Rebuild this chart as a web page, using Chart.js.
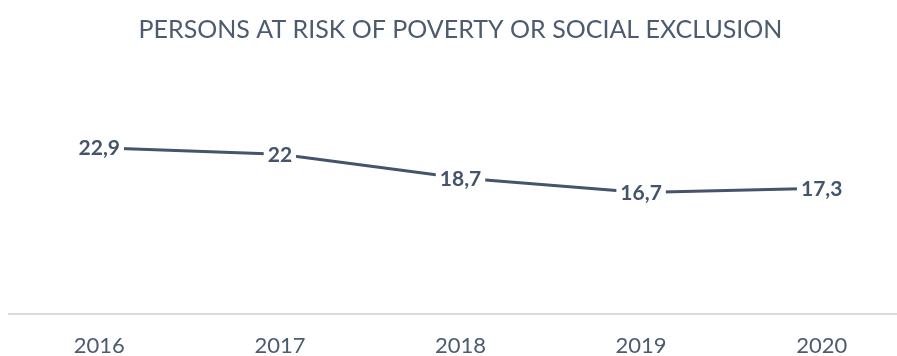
<!DOCTYPE html>
<html>
<head>
<meta charset="utf-8">
<script src="https://cdn.jsdelivr.net/npm/chart.js@4.4.1/dist/chart.umd.min.js"></script>
<style>
  html, body { margin: 0; padding: 0; background: #fff; overflow: hidden; }
  #wrap { position: relative; width: 915px; height: 370px; }
</style>
</head>
<body>
<div id="wrap"><canvas id="canvas"></canvas></div>
<script>
var years = ['2016', '2017', '2018', '2019', '2020'];
var riskValues = [22.9, 22, 18.7, 16.7, 17.3];
var chartTitle = 'PERSONS AT RISK OF POVERTY OR SOCIAL EXCLUSION';

var slate = '#44546A';

// value labels sit on top of the line with a white box behind them
var valueLabels = {
  id: 'valueLabels',
  afterDatasetsDraw: function(chart) {
    var ctx = chart.ctx;
    var meta = chart.getDatasetMeta(0);
    ctx.save();
    ctx.font = 'bold 21px Lato';
    ctx.textAlign = 'center';
    ctx.textBaseline = 'middle';
    meta.data.forEach(function(pt, i) {
      var txt = String(riskValues[i]).replace('.', ',');
      var w = ctx.measureText(txt).width;
      ctx.fillStyle = '#ffffff';
      ctx.fillRect(pt.x - w / 2 - 4, pt.y - 12, w + 8, 24);
      ctx.fillStyle = slate;
      ctx.fillText(txt, pt.x, pt.y + 1);
    });
    ctx.restore();
  }
};

window.onload = function() {
  var ctx = document.getElementById('canvas').getContext('2d');
  window.myLine = new Chart(ctx, {
    type: 'line',
    data: {
      labels: years,
      datasets: [{
        label: 'At risk',
        data: riskValues,
        borderColor: slate,
        borderWidth: 3,
        pointRadius: 0,
        tension: 0
      }]
    },
    options: {
      responsive: true,
      maintainAspectRatio: false,
      animation: false,
      layout: { padding: { left: 9, right: 3, top: 0, bottom: 0 } },
      plugins: {
        legend: { display: false },
        tooltip: { enabled: false },
        title: {
          display: true,
          text: chartTitle,
          color: '#4D5B70',
          font: { family: 'Lato', size: 25, weight: 'normal' },
          padding: { top: 15, bottom: 15 }
        }
      },
      scales: {
        x: {
          offset: true,
          grid: { display: false },
          border: { display: true, color: '#D9D9D9', width: 2 },
          ticks: {
            color: '#4D5B70',
            font: { family: 'Lato', size: 22 },
            padding: 11,
            maxRotation: 0
          }
        },
        y: {
          display: false,
          min: 0,
          max: 35
        }
      }
    },
    plugins: [valueLabels]
  });
};
</script>
</body>
</html>
